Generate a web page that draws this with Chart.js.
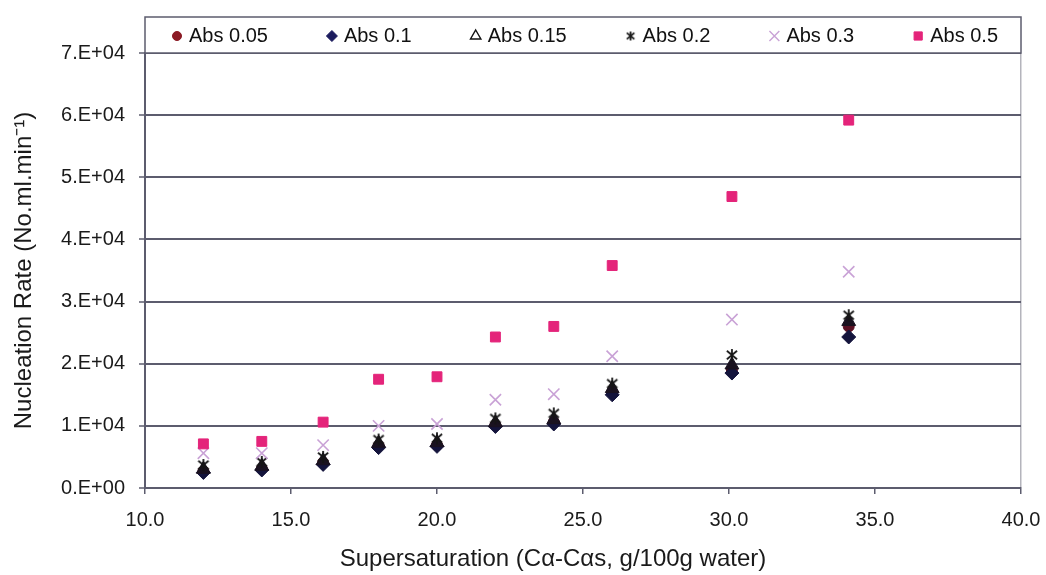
<!DOCTYPE html>
<html>
<head>
<meta charset="utf-8">
<script src="https://cdn.jsdelivr.net/npm/chart.js@4.4.1/dist/chart.umd.min.js"></script>
<style>
  html, body { margin: 0; padding: 0; background: #fff; }
</style>
</head>
<body>
<canvas id="nucleationChart" width="1046" height="575"></canvas>
<script>
// Supersaturation (x) shared by every series
const supersaturation = [12.0, 14.0, 16.1, 18.0, 20.0, 22.0, 24.0, 26.0, 30.1, 34.1];

// Nucleation rate for each absorbance level
const abs005 = [2700, 3100, 4100, 6800, 6900, 10100, 10600, 15400, 19000, 26000];
const abs01  = [2500, 2900, 3800, 6500, 6700, 9900, 10300, 15000, 18500, 24300];
const abs015 = [3000, 3500, 4400, 7200, 7300, 10500, 11000, 16000, 19800, 26800];
const abs02  = [3700, 4200, 5000, 7800, 8000, 11200, 12000, 16800, 21400, 27800];
const abs03  = [5600, 5600, 6900, 10000, 10300, 14200, 15100, 21200, 27100, 34800];
const abs05  = [7100, 7500, 10600, 17500, 17900, 24300, 26000, 35800, 46900, 59200];

const seriesNames = ["Abs 0.05", "Abs 0.1", "Abs 0.15", "Abs 0.2", "Abs 0.3", "Abs 0.5"];

// axis ranges
const xMin = 10, xMax = 40, xStep = 5;
const yMin = 0, yMax = 70000, yStep = 10000;

const FONT = '"Liberation Sans", Arial, sans-serif';
const AXIS = "#5c5c6e";

// asterisk marker like the excel "star"
function makeAsterisk(size, color) {
	const c = document.createElement("canvas");
	c.width = size;
	c.height = size;
	const g = c.getContext("2d");
	g.strokeStyle = color;
	g.lineWidth = 1.8;
	const m = size / 2, r = size / 2 - 1;
	g.beginPath();
	g.moveTo(m, m - r); g.lineTo(m, m + r);
	g.moveTo(m - r * 0.85, m - r * 0.7); g.lineTo(m + r * 0.85, m + r * 0.7);
	g.moveTo(m + r * 0.85, m - r * 0.7); g.lineTo(m - r * 0.85, m + r * 0.7);
	g.stroke();
	return c;
}
const starPlot = makeAsterisk(14, "#161616");
const starLegend = makeAsterisk(11, "#1a1a1a");

const toPoints = (vals) => supersaturation.map((x, i) => ({ x: x, y: vals[i] }));

const series = [
	{ vals: abs005, style: "circle", r: 5.5, color: "#5a1024", legend: { style: "circle", r: 4.5, color: "#8b1a24" } },
	{ vals: abs01, style: "rectRot", r: 7, color: "#14143c", legend: { style: "rectRot", r: 5.5, color: "#1c1c5e" } },
	{ vals: abs015, style: "triangle", r: 8, color: "#1a1220", legend: { style: "triangle", r: 6, color: "#111", hollow: true } },
	{ vals: abs02, style: starPlot, r: 7, color: "#161616", legend: { style: starLegend, r: 5, color: "#1a1a1a" } },
	{ vals: abs03, style: "crossRot", r: 8, color: "#c9a2d6", legend: { style: "crossRot", r: 7, color: "#c9a2d6" } },
	{ vals: abs05, style: "rect", r: 7, color: "#e4247a", legend: { style: "rect", r: 5.8, color: "#e4247a" } },
];

// legend box sitting on top of the plot like the original
const boxLegend = {
	id: "boxLegend",
	afterDraw(chart) {
		const { ctx, chartArea } = chart;
		const top = 17, bottom = chartArea.top;
		ctx.save();
		ctx.fillStyle = "#fff";
		ctx.fillRect(chartArea.left, top, chartArea.right - chartArea.left, bottom - top);
		ctx.strokeStyle = AXIS;
		ctx.lineWidth = 1.5;
		ctx.strokeRect(chartArea.left, top, chartArea.right - chartArea.left, bottom - top);

		ctx.font = "20px " + FONT;
		ctx.textBaseline = "middle";
		const widths = seriesNames.map(n => ctx.measureText(n).width + 12);
		const startX = chartArea.left + 32, endX = chartArea.right - 23;
		const gap = (endX - startX - widths.reduce((a, b) => a + b, 0)) / (widths.length - 1);
		const y = (top + bottom) / 2 + 1;
		let x = startX;
		series.forEach((s, i) => {
			const l = s.legend;
			ctx.fillStyle = l.hollow ? "rgba(0,0,0,0)" : l.color;
			ctx.strokeStyle = l.color;
			ctx.lineWidth = l.hollow || l.style === "crossRot" ? 1.4 : 1;
			Chart.helpers.drawPoint(ctx, { pointStyle: l.style, radius: l.r, borderWidth: ctx.lineWidth, rotation: 0 }, x, y);
			ctx.fillStyle = "#111";
			ctx.fillText(seriesNames[i], x + 12, y);
			x += widths[i] + gap;
		});
		ctx.restore();
	},
};

function sciLabel(v) {
	if (v === 0) return "0.E+00";
	const e = Math.floor(Math.log10(v));
	const m = Math.round(v / Math.pow(10, e));
	return m + ".E+" + String(e).padStart(2, "0");
}

new Chart(document.getElementById("nucleationChart"), {
	type: "scatter",
	data: {
		datasets: series.map((s, i) => ({
			label: seriesNames[i],
			data: toPoints(s.vals),
			pointStyle: s.style,
			pointRadius: s.r,
			pointHoverRadius: s.r,
			backgroundColor: s.color,
			borderColor: s.color,
			borderWidth: s.style === "crossRot" ? 1.6 : 1,
			order: series.length - i,
		})),
	},
	options: {
		responsive: false,
		animation: false,
		devicePixelRatio: 1,
		layout: { padding: { top: 53, right: 25, left: 0, bottom: 0 } },
		plugins: {
			legend: { display: false },
			tooltip: { enabled: false },
		},
		scales: {
			x: {
				type: "linear",
				min: xMin,
				max: xMax,
				afterFit: (s) => { s.height = 87; s.paddingLeft = 0; s.paddingRight = 0; },
				ticks: {
					stepSize: xStep,
					padding: 14,
					color: "#1a1a1a",
					font: { family: FONT, size: 20 },
					callback: (v) => v.toFixed(1),
				},
				grid: {
					color: (c) => (c.tick && c.tick.value === xMax ? "#b4b4bc" : "rgba(0,0,0,0)"),
					lineWidth: 1.5,
					tickColor: AXIS,
					tickLength: 6,
					tickWidth: 1.5,
				},
				border: { display: true, color: AXIS, width: 2 },
				title: {
					display: true,
					text: "Supersaturation (C\u03b1-C\u03b1s, g/100g water)\u00a0\u00a0\u00a0\u00a0\u00a0\u00a0\u00a0\u00a0\u00a0",
					color: "#1a1a1a",
					font: { family: FONT, size: 24 },
					padding: { top: 0, bottom: 1 },
				},
			},
			y: {
				min: yMin,
				max: yMax,
				afterFit: (s) => { s.width = 145; },
				ticks: {
					stepSize: yStep,
					padding: 14,
					color: "#1a1a1a",
					font: { family: FONT, size: 20 },
					callback: (v) => sciLabel(v),
				},
				grid: {
					color: AXIS,
					lineWidth: 2,
					tickColor: AXIS,
					tickLength: 6,
					tickWidth: 1.5,
				},
				border: { display: true, color: AXIS, width: 2 },
				title: {
					display: true,
					text: "Nucleation Rate (No.ml.min\u207b\u00b9)",
					color: "#1a1a1a",
					font: { family: FONT, size: 24 },
					padding: { top: 10, bottom: 0 },
				},
			},
		},
	},
	plugins: [boxLegend],
});
</script>
</body>
</html>
